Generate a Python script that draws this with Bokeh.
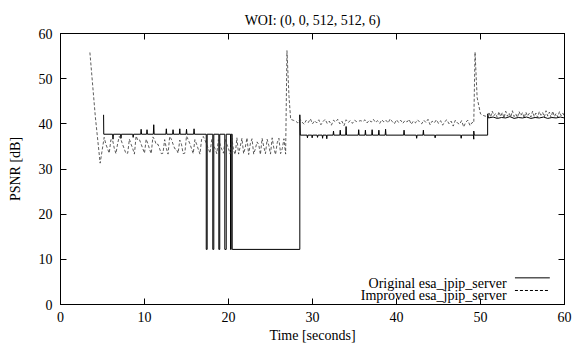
from bokeh.plotting import figure
from bokeh.models import Range1d, LinearAxis, FixedTicker, Label, Arrow
from bokeh.embed import file_html
from bokeh.resources import INLINE

FONT = "Liberation Serif"

# ---------------- data ----------------
tick_values = [0, 10, 20, 30, 40, 50, 60]

# Original esa_jpip_server (solid)
orig_t = [5.13, 5.13, 5.15,
          6.20, 6.25, 6.30, 7.15, 7.20, 7.25, 8.60, 8.65, 8.70,
          9.55, 9.60, 9.65, 10.25, 10.30, 10.35, 11.05, 11.10, 11.15,
          12.55, 12.60, 12.65, 13.35, 13.40, 13.45, 14.15, 14.20, 14.25,
          14.95, 15.00, 15.05, 15.85, 15.90, 15.95,
          17.35, 17.35, 17.46, 17.46, 18.13, 18.13, 18.25, 18.25,
          18.85, 18.85, 18.96, 18.96, 19.56, 19.56, 19.73, 19.73,
          20.24, 20.24, 20.32, 20.32, 20.44, 20.44,
          28.49, 28.49, 28.55,
          29.35, 29.40, 29.45, 29.91, 29.96, 30.01, 30.55, 30.60, 30.65,
          31.15, 31.20, 31.25, 31.65, 31.70, 31.75, 32.45, 32.50, 32.55,
          33.25, 33.30, 33.35, 33.95, 34.00, 34.05, 35.45, 35.50, 35.55,
          36.25, 36.30, 36.35, 37.05, 37.10, 37.15, 37.85, 37.90, 37.95,
          38.65, 38.70, 38.75, 40.85, 40.90, 40.95, 42.35, 42.40, 42.45,
          43.15, 43.20, 43.25, 44.55, 44.60, 44.65, 47.65, 47.70, 47.75,
          49.15, 49.20, 49.20, 49.25,
          50.85, 50.85, 50.95,
          51.5, 52.0, 52.5, 53.0, 53.5, 54.0, 54.5, 55.0, 55.5,
          56.0, 56.5, 57.0, 57.5, 58.0, 58.5, 59.0, 59.5, 60.0]
orig_v = [42.0, 42.0, 37.7,
          37.7, 36.6, 37.7, 37.7, 36.8, 37.7, 37.7, 37.0, 37.7,
          37.7, 38.8, 37.7, 37.7, 38.7, 37.7, 37.7, 39.8, 37.7,
          37.7, 38.9, 37.7, 37.7, 38.7, 37.7, 37.7, 38.9, 37.7,
          37.7, 38.8, 37.7, 37.7, 38.9, 37.7,
          37.7, 12.2, 12.2, 37.7, 37.7, 12.2, 12.2, 37.7,
          37.7, 12.2, 12.2, 37.7, 37.7, 12.2, 12.2, 37.7,
          37.7, 12.2, 12.2, 37.7, 37.7, 12.2,
          12.2, 42.0, 37.5,
          37.5, 36.9, 37.5, 37.5, 36.9, 37.5, 37.5, 37.0, 37.5,
          37.5, 36.8, 37.5, 37.5, 36.7, 37.5, 37.5, 38.4, 37.5,
          37.5, 38.6, 37.5, 37.5, 39.4, 37.5, 37.5, 38.7, 37.5,
          37.5, 38.6, 37.5, 37.5, 38.7, 37.5, 37.5, 38.6, 37.5,
          37.5, 38.8, 37.5, 37.5, 38.6, 37.5, 37.5, 36.8, 37.5,
          37.5, 38.6, 37.5, 37.5, 36.9, 37.5, 37.5, 36.8, 37.5,
          37.5, 36.6, 38.4, 37.5,
          37.5, 42.2, 41.3,
          41.5, 41.2, 41.4, 41.3, 41.6, 41.2, 41.4, 41.3, 41.5,
          41.2, 41.4, 41.3, 41.5, 41.2, 41.4, 41.3, 41.5, 41.3]

# Improved esa_jpip_server (dashed)
imp_start_t = [3.50, 4.15, 4.72]
imp_start_v = [55.8, 41.5, 31.3]

imp_band1_t0, imp_band1_dt = 5.2, 0.2
imp_band1_v = [37.0, 35.5, 34.5, 33.5, 36.5, 36.4, 34.6, 33.4, 35.6, 37.2,
               36.5, 35.4, 34.4, 33.4, 33.5, 36.6, 35.5, 34.5, 33.3, 37.3,
               36.4, 36.5, 35.5, 34.5, 33.5, 36.6, 35.6, 34.4, 33.4, 37.1,
               36.5, 35.4, 35.5, 34.5, 33.4, 33.5, 36.5, 34.6, 33.3, 37.2,
               36.6, 35.5, 34.5, 34.4, 33.5, 36.4, 35.5, 33.4, 33.5, 37.3,
               36.5, 35.6, 34.5, 33.4, 36.5, 35.5, 34.4, 33.3, 36.6, 37.2,
               36.4, 35.5, 34.5, 33.5, 36.5, 35.4, 34.5, 33.4, 36.5, 35.5,
               34.4, 33.5, 36.6, 35.5, 34.5, 33.3, 36.8, 34.2, 33.2, 36.9,
               33.3, 35.0, 36.8, 33.4, 34.8, 36.9, 33.2, 35.6, 36.7, 33.3,
               34.5, 36.0, 35.4, 33.2, 36.8, 34.9, 33.4, 36.6, 35.2, 33.3,
               36.9, 34.6, 33.2, 35.8, 36.8, 33.4, 34.5, 36.7, 33.3]

imp_peak1_t = [26.96, 27.20, 27.40, 27.70]
imp_peak1_v = [56.2, 46.1, 41.0, 40.8]

imp_band2_t0, imp_band2_dt = 28.0, 0.25
imp_band2_v = [40.6, 40.2, 41.0, 40.4, 39.9, 40.8, 40.3, 41.1, 40.0, 40.7,
               40.2, 40.9, 39.8, 40.5, 41.0, 40.1, 40.6, 39.7, 40.8, 40.4,
               41.0, 40.0, 40.6, 39.6, 40.9, 40.3, 40.7, 40.1, 40.8, 40.5,
               40.6, 40.7, 40.5, 40.9, 40.2, 40.8, 40.4, 41.0, 40.3, 40.7,
               40.1, 40.9, 40.4, 40.8, 40.2, 41.1, 40.5, 40.0, 40.9, 40.3,
               40.8, 40.1, 40.7, 40.4, 41.0, 39.9, 40.6, 40.2, 40.9, 40.4,
               40.0, 40.8, 40.3, 41.0, 39.8, 40.6, 40.2, 40.9, 40.1, 40.7,
               39.7, 40.5, 40.9, 40.0, 40.6, 39.5, 40.8, 40.2, 39.9, 40.7,
               39.3, 40.4, 40.8, 39.6, 40.3]

imp_peak2_t = [49.20, 49.35, 49.60, 50.00, 50.40, 50.80]
imp_peak2_v = [40.2, 55.9, 45.8, 42.2, 41.8, 41.6]

imp_band3_t0, imp_band3_dt = 51.0, 0.2
imp_band3_v = [42.6, 41.5, 42.8, 41.8, 42.3, 41.4, 42.7, 41.6, 42.5, 41.3,
               42.8, 41.7, 42.4, 41.5, 42.9, 41.6, 42.2, 41.4, 42.7, 41.8,
               42.5, 41.3, 42.6, 41.7, 42.3, 41.5, 42.8, 41.6, 42.4, 41.4,
               42.7, 41.9, 42.5, 41.5, 42.9, 41.7, 42.6, 41.4, 42.8, 41.6,
               42.3, 41.5, 42.7, 41.8, 42.4, 41.6]

series_labels = ["Original esa_jpip_server", "Improved esa_jpip_server"]
title_text = "WOI: (0, 0, 512, 512, 6)"
x_label = "Time [seconds]"
y_label = "PSNR [dB]"


def band_times(t0, dt, vals):
    return [round(t0 + dt * i, 4) for i in range(len(vals))]


imp_t = (imp_start_t + band_times(imp_band1_t0, imp_band1_dt, imp_band1_v) + imp_peak1_t
         + band_times(imp_band2_t0, imp_band2_dt, imp_band2_v) + imp_peak2_t
         + band_times(imp_band3_t0, imp_band3_dt, imp_band3_v))
imp_v = (imp_start_v + imp_band1_v + imp_peak1_v + imp_band2_v + imp_peak2_v + imp_band3_v)

# ---------------- figure ----------------
p = figure(width=572, height=346, output_backend="svg", toolbar_location=None,
           x_range=Range1d(0, 60), y_range=Range1d(0, 60),
           min_border_left=60, min_border_right=8, min_border_top=33, min_border_bottom=42,
           title=title_text)
p.background_fill_color = "white"
p.border_fill_color = "white"
p.outline_line_color = "black"
p.outline_line_width = 1
p.xgrid.visible = False
p.ygrid.visible = False

p.title.align = "center"
p.title.text_font = FONT
p.title.text_font_size = "14px"
p.title.text_font_style = "normal"
p.title.text_color = "black"
p.title.standoff = 12


def style_axis(ax):
    ax.ticker = FixedTicker(ticks=tick_values)
    ax.major_tick_in = 6
    ax.major_tick_out = 0
    ax.minor_tick_line_color = None
    ax.axis_line_color = "black"
    ax.major_tick_line_color = "black"
    ax.major_label_text_font = FONT
    ax.major_label_text_color = "black"
    ax.major_label_text_font_size = "14px"
    ax.axis_label_text_font = FONT
    ax.axis_label_text_font_size = "14px"
    ax.axis_label_text_font_style = "normal"
    ax.axis_label_text_color = "black"


def style_mirror_axis(ax):
    # tick marks only (no labels): use the tick values as minor ticks
    ax.ticker = FixedTicker(ticks=[], minor_ticks=tick_values)
    ax.minor_tick_in = 6
    ax.minor_tick_out = 0
    ax.minor_tick_line_color = "black"
    ax.major_tick_line_color = None
    ax.axis_line_color = "black"
    ax.major_label_standoff = 0


style_axis(p.xaxis[0])
style_axis(p.yaxis[0])
p.xaxis[0].axis_label = x_label
p.yaxis[0].axis_label = y_label
p.xaxis[0].major_label_standoff = 7
p.xaxis[0].axis_label_standoff = 3
p.yaxis[0].major_label_standoff = 8
p.yaxis[0].axis_label_standoff = 13

top_ax = LinearAxis()
right_ax = LinearAxis()
style_mirror_axis(top_ax)
style_mirror_axis(right_ax)
p.add_layout(top_ax, "above")
p.add_layout(right_ax, "right")

r_orig = p.line(orig_t, orig_v, line_color="black", line_width=1)
r_imp = p.line(imp_t, imp_v, line_color="#333333", line_width=0.8, line_dash="3 2")

# gnuplot-style key: text right-aligned, sample line on the right
p.add_layout(Label(x=53.1, y=4.6, text=series_labels[0], text_align="right",
                   text_baseline="alphabetic", text_font=FONT, text_font_size="14px",
                   text_color="black"))
p.add_layout(Label(x=53.1, y=2.1, text=series_labels[1], text_align="right",
                   text_baseline="alphabetic", text_font=FONT, text_font_size="14px",
                   text_color="black"))
p.add_layout(Arrow(end=None, x_start=54.1, y_start=5.9, x_end=58.25, y_end=5.9,
                   line_color="black", line_width=1))
p.add_layout(Arrow(end=None, x_start=54.1, y_start=3.1, x_end=58.25, y_end=3.1,
                   line_color="black", line_width=1, line_dash="3 2"))

open("out.html", "w").write(file_html(p, INLINE))
